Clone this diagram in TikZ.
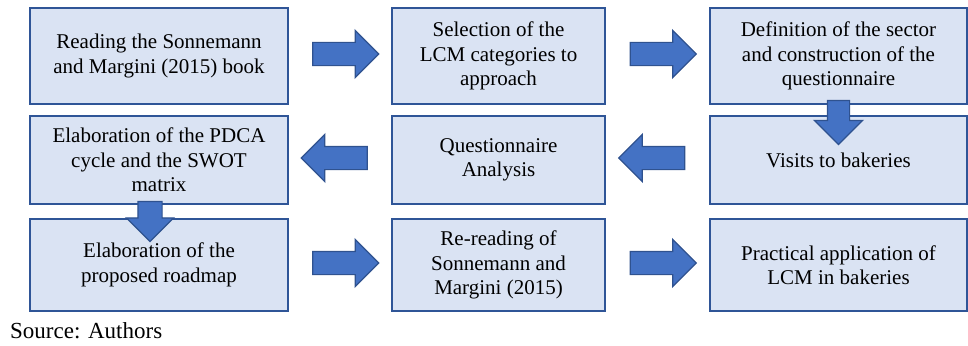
\documentclass[tikz,border=0pt]{standalone}
\usepackage{fontspec}
\setmainfont{Liberation Serif}
\usepackage{tikz}
\usetikzlibrary{shapes.arrows, calc}

\definecolor{BoxFill}{HTML}{DAE3F3}
\definecolor{BoxLine}{HTML}{2F5597}
\definecolor{ArrowFill}{HTML}{4472C4}
\definecolor{ArrowLine}{HTML}{2F528F}

\begin{document}
\begin{tikzpicture}[x=1pt, y=-1pt]
      \useasboundingbox (0,0) rectangle (968,345);
      \tikzstyle{BoxStyle} = [draw=BoxLine, fill=BoxFill, line width=1.8pt, align=center,
                              inner sep=0pt, font=\fontsize{21}{24.5}\selectfont]
      \tikzstyle{ArrowStyle} = [single arrow, draw=ArrowLine, fill=ArrowFill, line width=1.2pt,
                                inner xsep=0pt, inner ysep=11pt, text height=0pt, text depth=0pt,
                                text width=0pt, single arrow head extend=12pt, minimum height=66pt]
      \tikzstyle{DownStyle} = [ArrowStyle, shape border rotate=270, inner xsep=11pt, inner ysep=0pt]
      % first row
      \node[BoxStyle, minimum width=258pt, minimum height=96pt] (Read) at (159,56)
           {Reading the Sonnemann\\and Margini (2015) book};
      \node[BoxStyle, minimum width=213pt, minimum height=96pt] (Select) at (498.5,56)
           {Selection of the\\LCM categories to\\approach};
      \node[BoxStyle, minimum width=257pt, minimum height=96pt] (Define) at (838.5,56)
           {Definition of the sector\\and construction of the\\questionnaire};
      % second row
      \node[BoxStyle, minimum width=258pt, minimum height=88pt] (Elab) at (159,160)
           {Elaboration of the PDCA\\cycle and the SWOT\\matrix};
      \node[BoxStyle, minimum width=213pt, minimum height=88pt] (Quest) at (498.5,160)
           {Questionnaire\\Analysis};
      \node[BoxStyle, minimum width=257pt, minimum height=88pt] (Visits) at (838.5,160)
           {Visits to bakeries};
      % third row
      \node[BoxStyle, minimum width=258pt, minimum height=92pt] (Roadmap) at (159,265)
           {Elaboration of the\\proposed roadmap};
      \node[BoxStyle, minimum width=213pt, minimum height=92pt] (Reread) at (498.5,265)
           {Re-reading of\\Sonnemann and\\Margini (2015)};
      \node[BoxStyle, minimum width=257pt, minimum height=92pt] (Apply) at (838.5,265)
           {Practical application of\\LCM in bakeries};
      % block arrows
      \node[ArrowStyle] (ReadSelect) at ($(Read.east)!0.5!(Select.west)+(0,-2)$) {};
      \node[ArrowStyle] (SelectDefine) at ($(Select.east)!0.5!(Define.west)+(0,-2)$) {};
      \node[DownStyle, minimum height=44pt, inner xsep=10.5pt,
            single arrow head extend=13pt] (DefineVisits) at ($(Define.south)!0.5!(Visits.north)+(0,7)$) {};
      \node[ArrowStyle, shape border rotate=180] (VisitsQuest) at ($(Visits.west)!0.5!(Quest.east)+(0,-2)$) {};
      \node[ArrowStyle, shape border rotate=180] (QuestElab) at ($(Quest.west)!0.5!(Elab.east)+(0,-2)$) {};
      \node[DownStyle, minimum height=40pt, inner xsep=11.5pt,
            single arrow head extend=11.5pt] (ElabRoadmap) at ($(Elab.south)!0.5!(Roadmap.north)+(-9,4)$) {};
      \node[ArrowStyle] (RoadmapReread) at ($(Roadmap.east)!0.5!(Reread.west)+(0,-2)$) {};
      \node[ArrowStyle] (RereadApply) at ($(Reread.east)!0.5!(Apply.west)+(0,-2)$) {};
      \node[anchor=base west, inner sep=0pt, font=\fontsize{23}{27}\selectfont] (Source) at (10,338)
           {Source: Authors};
\end{tikzpicture}
\end{document}
